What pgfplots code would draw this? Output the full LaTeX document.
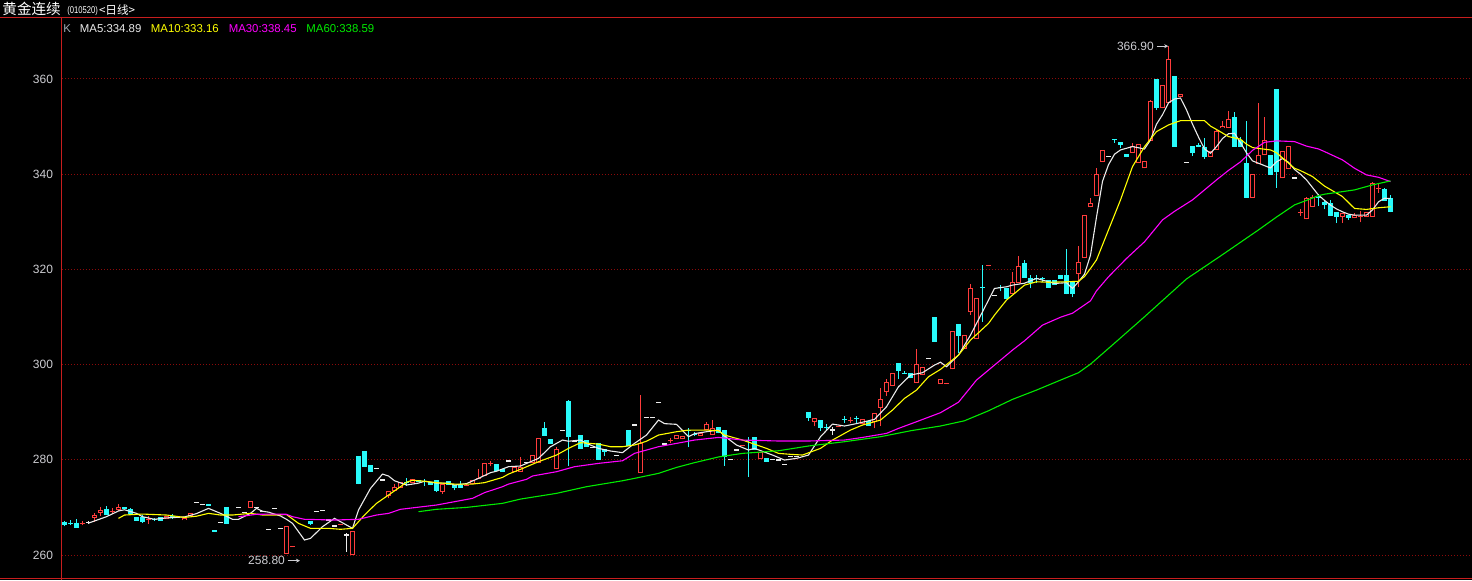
\documentclass[border=0pt]{standalone}
\usepackage{pgfplots}
\pgfplotsset{compat=1.18}
\usepackage{pgfplotstable}
\usetikzlibrary{arrows.meta}
\usepackage{fontspec}
\setmainfont{Liberation Sans}
\newfontfamily\cjk{Noto Sans CJK SC}

\definecolor{upred}{RGB}{255,60,60}
\definecolor{dncyan}{RGB}{40,250,250}
\definecolor{axred}{RGB}{200,30,30}
\definecolor{gridred}{RGB}{140,10,10}
\definecolor{lbl}{RGB}{205,205,210}
\definecolor{kgrey}{RGB}{160,170,180}
\definecolor{ma5}{RGB}{235,235,235}
\definecolor{ma10}{RGB}{255,255,0}
\definecolor{ma30}{RGB}{255,0,255}
\definecolor{ma60}{RGB}{0,235,0}

% daily bars: i = bar index, o h l c
% rising bars (hollow red)
\pgfplotstableread{
i o h l c
3 266.6 267.2 266.2 266.8
5 267.8 268.9 267.0 268.4
6 268.9 270.0 268.2 269.45
8 269.1 269.8 268.6 269.3
9 269.45 270.7 269.2 270.15
14 267.4 268.1 266.5 267.6
17 267.6 268.2 267.6 268.2
20 267.3 267.8 267.3 267.8
21 268.2 268.75 268.2 268.75
31 269.95 271.35 269.95 271.35
37 260.2 266.1 260.2 266.1
38 261.8 261.95 261.8 261.95
46 266.35 266.55 266.35 266.55
48 259.95 264.95 259.95 264.95
54 272.45 273.45 271.9 273.45
55 273.45 274.85 273.45 274.35
56 274.15 275.3 274.15 275.3
58 275.2 275.9 275.2 275.9
63 273.3 274.9 272.9 274.9
67 274.6 274.9 274.4 274.8
68 274.9 275.75 274.9 275.75
69 276.0 278.0 276.0 276.2
70 276.65 279.4 276.65 279.4
71 279.15 279.7 278.6 279.35
75 277.5 278.4 277.5 278.4
76 277.5 280.5 277.5 278.4
78 279.25 281.0 279.25 281.0
79 279.25 284.65 279.25 284.65
82 278.0 282.75 278.0 282.25
96 277.15 293.6 277.15 283.6
101 283.9 284.6 283.6 284.1
102 284.3 285.2 284.3 285.2
103 284.3 285.0 284.3 285.0
106 285.0 285.7 285.0 285.7
107 286.2 287.9 286.2 287.45
108 285.2 288.3 285.2 286.6
113 282.9 283.1 282.9 283.1
116 280.2 281.6 280.2 281.6
125 288.0 288.7 287.0 288.7
129 286.85 287.05 286.85 287.05
131 288.25 289.0 287.8 288.45
133 287.5 288.5 287.5 288.5
135 287.95 289.75 286.6 289.75
136 290.95 295.0 287.0 292.7
137 294.2 297.0 293.5 296.35
138 295.5 298.2 295.5 298.2
142 296.2 303.3 296.2 300.1
143 297.8 299.4 297.8 299.4
146 295.9 296.9 295.9 296.9
147 295.95 296.15 295.95 296.15
148 299.0 307.05 299.0 307.05
150 303.3 306.15 303.3 306.15
151 311.0 316.9 310.5 316.0
152 305.3 313.9 305.3 313.9
154 320.8 321.0 320.8 321.0
158 314.85 319.4 314.85 317.3
159 317.1 322.9 317.1 320.7
169 319.0 324.9 316.4 321.6
170 322.3 331.4 322.3 331.4
171 333.05 334.95 333.05 334.0
172 335.4 341.3 335.4 340.0
173 342.6 345.1 342.6 345.1
178 344.55 346.5 344.55 345.85
179 342.4 346.35 342.4 346.35
180 341.25 342.75 341.25 342.75
181 347.05 355.6 347.05 355.4
183 353.85 358.75 353.85 358.75
184 354.9 366.9 354.9 364.1
186 356.3 356.85 356.3 356.85
191 343.7 344.9 343.7 344.9
192 345.1 349.6 345.1 349.1
193 349.65 351.2 349.65 350.1
194 349.8 353.3 349.8 351.5
198 335.1 340.0 335.1 340.0
199 342.1 354.9 342.1 344.0
200 343.95 351.95 343.95 347.1
203 339.1 344.9 339.1 344.9
204 341.0 345.9 341.0 345.9
206 331.8 332.6 331.3 332.0
207 330.5 335.3 330.5 335.05
208 333.15 335.6 333.15 335.25
213 331.05 331.9 329.8 331.9
215 330.7 331.9 330.7 331.4
216 331.1 332.3 329.9 331.3
217 331.05 332.1 331.05 332.1
218 331.05 338.4 331.05 338.1
219 336.95 338.0 336.1 337.15
}\upT

% falling bars (filled cyan)
\pgfplotstableread{
i o h l c
0 267.0 267.2 266.0 266.2
1 266.8 267.3 266.2 266.6
2 266.8 267.5 265.7 265.7
7 269.7 270.3 268.4 268.4
10 270.0 270.1 269.6 269.6
11 269.7 269.9 268.6 268.6
12 268.0 268.0 267.2 267.2
13 267.9 268.3 266.7 266.9
15 267.6 267.8 267.1 267.4
16 267.9 267.9 267.2 267.2
18 268.1 268.6 267.6 267.9
24 270.7 270.7 270.35 270.35
25 265.25 265.25 264.9 264.9
27 270.1 270.1 266.6 266.6
41 267.1 267.1 266.2 266.5
49 280.8 280.8 274.85 274.85
50 281.85 281.85 278.55 278.55
51 278.9 278.9 277.5 277.5
57 275.3 276.1 274.6 275.1
59 275.75 275.75 275.3 275.3
60 275.6 276.0 274.6 275.4
61 275.4 275.4 274.7 274.7
62 275.75 275.75 273.2 273.45
64 275.55 275.55 274.7 274.7
65 274.7 274.7 273.6 274.15
66 274.7 275.5 274.1 274.1
72 279.1 279.1 277.7 277.7
73 278.0 278.0 277.5 277.5
80 286.75 287.95 285.0 285.0
81 284.35 284.35 283.4 283.4
84 292.35 292.55 278.75 284.85
86 285.2 285.2 282.25 282.25
87 284.15 284.15 282.75 282.75
89 283.45 283.45 279.95 279.95
90 282.25 282.25 280.9 281.7
94 286.25 286.25 282.9 282.9
104 286.2 286.6 282.6 286.0
105 285.5 285.8 285.0 285.3
109 286.8 286.8 285.55 285.55
110 286.25 286.25 278.7 280.65
114 284.2 284.7 276.45 284.05
115 284.7 284.7 282.05 282.05
117 280.3 280.3 279.6 279.6
124 290.1 290.1 288.2 288.85
126 288.35 288.35 286.0 286.6
127 286.9 287.6 286.0 286.7
130 288.6 289.3 287.7 288.4
132 288.75 289.2 287.6 288.55
134 288.2 288.2 287.15 287.15
139 300.25 300.25 296.9 298.65
140 298.3 298.6 298.0 298.1
141 298.2 298.2 297.1 297.1
145 309.95 309.95 304.8 304.8
149 308.5 308.5 302.35 306.05
153 316.25 320.9 309.0 316.05
156 316.35 316.8 315.4 316.15
157 316.15 316.15 313.8 313.8
160 321.3 321.9 318.25 318.25
161 318.25 318.8 316.0 317.1
162 318.1 318.9 317.1 317.9
163 318.1 318.5 317.4 317.9
164 317.75 317.75 316.15 316.15
165 317.75 317.75 316.7 316.7
166 318.8 318.8 317.9 317.9
167 318.8 324.2 314.75 314.75
168 317.3 317.3 314.1 314.85
175 347.3 347.5 346.6 347.1
176 346.7 346.7 345.4 346.1
177 344.25 344.25 343.55 343.55
182 360.0 360.0 353.5 353.85
185 360.6 360.6 345.8 345.8
188 345.9 345.9 343.8 344.5
189 346.1 346.5 345.65 345.65
190 345.8 347.6 343.2 343.7
195 351.95 353.1 345.8 345.8
196 347.2 347.9 345.8 345.8
197 342.3 351.2 335.1 335.1
201 344.0 344.0 339.9 339.9
202 357.8 357.8 337.2 340.5
209 335.3 335.9 333.3 335.1
210 334.2 334.4 332.6 333.5
211 334.0 334.6 331.2 331.2
212 332.1 332.1 329.7 331.05
214 331.4 331.4 330.4 330.7
220 336.95 337.2 334.45 334.45
221 334.95 335.6 332.0 332.0
}\downT

% unchanged bars (white)
\pgfplotstableread{
i o h l c
4 266.8 267.1 266.5 266.8
22 271.1 271.1 271.1 271.1
23 270.65 270.65 270.65 270.65
26 266.9 266.9 266.9 266.9
29 270.0 270.0 270.0 270.0
30 269.0 269.0 269.0 269.0
32 269.95 269.95 269.95 269.95
33 269.2 269.2 269.2 269.2
34 265.4 265.4 265.4 265.4
35 269.7 269.7 269.7 269.7
36 265.6 265.6 265.6 265.6
42 269.1 269.1 269.1 269.1
43 269.3 269.3 269.3 269.3
44 267.35 267.35 267.35 267.35
45 266.1 266.1 266.1 266.1
47 264.2 264.55 260.7 264.2
52 278.2 278.2 278.2 278.2
53 275.75 275.75 275.75 275.75
74 279.75 279.75 279.75 279.75
77 279.5 279.5 279.5 279.5
83 286.2 286.2 286.2 286.2
85 283.9 283.9 283.9 283.9
88 282.6 282.6 282.6 282.6
92 280.95 280.95 280.95 280.95
95 287.3 287.3 287.3 287.3
97 288.9 288.9 288.9 288.9
98 288.9 288.9 288.9 288.9
99 292.1 292.1 292.1 292.1
100 283.3 283.3 283.3 283.3
111 280.1 280.1 280.1 280.1
112 282.05 282.05 282.05 282.05
118 280.1 280.1 280.1 280.1
119 279.95 279.95 279.95 279.95
120 279.05 279.05 279.05 279.05
121 280.65 280.65 280.65 280.65
122 280.65 280.65 280.65 280.65
128 286.25 286.9 285.2 286.25
144 301.2 301.2 301.2 301.2
155 314.55 314.55 314.55 314.55
174 343.8 343.8 343.8 343.8
187 342.5 342.5 342.5 342.5
205 339.2 339.2 339.2 339.2
}\flatT

\pgfplotsset{
  seg/.style 2 args={draw=#1, line width=#2, mark=none, forget plot},
}

\begin{document}
\begin{tikzpicture}
\fill[black] (0,0) rectangle (736pt,290pt);
\useasboundingbox (0,0) rectangle (736pt,290pt);

\begin{axis}[at={(31pt,1pt)}, anchor=south west, scale only axis,
  width=705pt, height=280.5pt,
  xmin=-0.4167, xmax=234.583, ymin=255.168, ymax=373.025,
  axis line style={draw=none}, xtick=\empty,
  ytick={260,280,...,360}, major tick length=0pt,
  ymajorgrids, grid style={gridred, line width=0.5pt, dash pattern=on 0.5pt off 1pt},
  yticklabel style={text=lbl, font=\fontsize{6}{7}\selectfont, xshift=-1pt},
  /pgf/number format/assume math mode=true,
]
% wicks, low to high
\addplot[seg={upred}{0.5pt}, quiver={u=0, v=\thisrow{h}-\thisrow{l}}] table[x=i, y=l] {\upT};
\addplot[seg={dncyan}{0.5pt}, quiver={u=0, v=\thisrow{h}-\thisrow{l}}] table[x=i, y=l] {\downT};
\addplot[seg={ma5}{0.5pt}, quiver={u=0, v=\thisrow{h}-\thisrow{l}}] table[x=i, y=l] {\flatT};
% bodies, open to close
\addplot[seg={upred}{2.5pt}, quiver={u=0, v=\thisrow{c}-\thisrow{o}}] table[x=i, y=o] {\upT};
\addplot[seg={black}{1.5pt}, quiver={u=0, v={max(\thisrow{c}-\thisrow{o}-0.42,0)}}] table[x=i, y expr=\thisrow{o}+0.21] {\upT};
\addplot[seg={dncyan}{2.5pt}, quiver={u=0, v=\thisrow{c}-\thisrow{o}}] table[x=i, y=o] {\downT};
\addplot[seg={ma5}{0.6pt}, quiver={u=0.8333, v=0}] table[x expr=\thisrow{i}-0.4167, y=c] {\flatT};

% moving averages
\addplot[ma5, line width=0.55pt, mark=none] coordinates {
(4,266.7)(7,268.05)(9,269.25)(10,269.5)(12,268.75)(13,268.05)(15,267.5)(17,267.8)(18,267.85)(20,268.0)(22,268.7)(24,269.8)(26,268.75)(28,267.5)(29,267.5)(31,268.75)(32,269.8)(33,269.2)(34,269.0)(35,268.6)(36,268.2)(37,267.5)(38,266.65)(40,263.15)(41,263.5)(43,265.95)(45,267.7)(46,267.0)(48,265.6)(49,269.45)(51,274.0)(53,277.0)(54,276.6)(55,275.6)(57,274.7)(59,275.1)(60,275.5)(62,275.1)(64,275.1)(65,274.7)(67,275.0)(69,276.1)(71,277.3)(72,277.6)(74,278.55)(76,278.7)(79,280.3)(81,282.75)(83,284.15)(84,283.9)(86,284.15)(87,283.45)(89,282.4)(91,281.85)(93,281.5)(95,283.45)(97,285.2)(99,288.35)(100,287.6)(102,287.45)(104,284.85)(105,285.5)(107,285.9)(109,286.25)(110,285.0)(112,283.1)(114,282.05)(115,282.4)(118,281.0)(120,279.95)(122,280.3)(124,281.0)(126,284.85)(128,287.5)(130,287.1)(132,287.6)(135,288.5)(137,291.15)(139,295.35)(141,297.8)(143,298.3)(145,299.9)(146,300.5)(147,299.55)(149,302.0)(151,306.2)(153,311.1)(154,313.55)(155,316.0)(157,316.35)(158,316.7)(160,317.1)(162,318.1)(163,317.75)(165,317.05)(167,317.2)(168,316.0)(169,317.4)(170,319.0)(171,323.0)(172,331.0)(173,338.5)(174,342.0)(175,344.2)(176,345.1)(178,345.8)(180,345.3)(181,347.2)(182,350.5)(183,352.5)(184,355.0)(185,355.8)(186,356.0)(187,353.5)(188,350.5)(189,347.8)(190,345.3)(191,344.4)(192,345.8)(193,347.5)(194,348.5)(195,348.6)(196,346.6)(197,344.5)(198,342.8)(199,342.3)(200,341.8)(201,341.3)(202,342.6)(203,343.3)(204,342.5)(205,341.0)(206,340.0)(207,338.8)(208,337.2)(209,335.6)(210,334.5)(211,333.5)(212,332.7)(213,332.1)(214,331.6)(215,331.4)(216,331.4)(217,331.4)(218,332.5)(219,334.2)(220,334.95)(221,334.89)
};
\addplot[ma10, line width=0.55pt, mark=none] coordinates {
(9,267.7)(10,268.4)(13,268.6)(17,268.4)(20,267.9)(22,268.15)(24,268.75)(26,268.4)(28,268.4)(31,268.75)(33,268.4)(35,268.4)(37,268.5)(39,266.65)(41,265.6)(44,265.6)(46,265.4)(48,265.6)(50,268.4)(52,270.85)(54,272.6)(56,274.35)(57,275.3)(58,275.7)(60,275.5)(62,275.2)(65,274.9)(68,274.9)(70,275.2)(73,276.3)(74,277.0)(76,278.0)(79,279.6)(82,281.0)(84,282.4)(86,283.6)(89,283.3)(91,282.75)(93,282.75)(95,283.1)(97,283.9)(99,285.2)(102,285.9)(104,286.25)(107,286.25)(109,286.1)(110,285.2)(113,284.15)(117,282.4)(119,281.35)(121,281.15)(123,281.0)(126,282.4)(128,284.15)(131,286.25)(133,287.3)(136,288.35)(138,290.45)(140,292.9)(142,294.65)(144,297.45)(146,299.0)(149,302.0)(151,305.15)(154,308.65)(155,310.4)(157,313.55)(160,316.7)(162,317.4)(164,317.3)(167,317.4)(169,317.5)(170,318.5)(171,320.2)(172,322.0)(174,328.3)(176,334.6)(178,341.6)(180,345.8)(182,348.95)(184,350.35)(186,351.25)(190,351.25)(191,350.1)(192,349.4)(194,347.9)(196,347.35)(197,346.3)(198,345.6)(199,345.4)(201,345.1)(202,344.5)(205,341.25)(206,340.75)(208,339.5)(210,337.5)(213,335.3)(215,332.8)(217,332.6)(219,332.95)(221,333.16)
};
\addplot[ma30, line width=0.55pt, mark=none] coordinates {
(29,268.05)(32,268.55)(35,268.6)(37,268.55)(38,268.05)(40,267.5)(45,267.35)(49,267.5)(52,268.4)(54,268.75)(56,269.6)(59,270.05)(62,270.5)(65,271.2)(68,271.9)(70,273.1)(73,274.35)(74,274.9)(77,275.9)(78,276.6)(82,277.5)(85,278.55)(89,279.25)(93,279.8)(95,281.35)(99,282.75)(102,283.45)(105,284.15)(109,284.7)(113,284.15)(119,283.95)(124,283.95)(130,284.15)(133,284.7)(137,285.55)(139,286.6)(142,288.0)(146,289.9)(149,292.1)(152,296.75)(155,299.9)(158,303.05)(160,305.0)(163,308.3)(166,309.95)(168,310.8)(171,313.4)(172,315.5)(174,318.45)(177,322.3)(180,325.8)(183,330.4)(185,332.2)(188,334.6)(192,338.8)(194,340.8)(196,342.6)(198,345.0)(200,346.7)(202,347.0)(204,346.9)(205,346.85)(207,345.9)(209,345.3)(210,344.75)(213,343.0)(215,341.25)(217,339.85)(219,339.35)(221,338.45)
};
\addplot[ma60, line width=0.55pt, mark=none] coordinates {
(59,269.1)(62,269.6)(67,270.0)(73,270.85)(76,271.75)(82,272.95)(87,274.35)(93,275.6)(95,276.1)(99,277.15)(102,278.4)(105,279.4)(109,280.6)(113,281.35)(119,281.9)(124,282.9)(130,283.8)(136,284.85)(141,286.1)(146,287.1)(150,288.2)(154,290.3)(158,292.7)(162,294.65)(166,296.75)(169,298.3)(171,300.1)(175,304.5)(180,310.05)(187,318.0)(193,323.1)(199,328.3)(202,331.0)(205,333.55)(207,334.5)(209,335.5)(210,335.8)(215,336.7)(218,337.75)(221,338.59)
};

% high / low markers
\node[anchor=east, inner sep=0pt, text=lbl, font=\fontsize{6}{7}\selectfont] at (axis cs:181.6,366.9) {366.90};
\draw[lbl, line width=0.5pt, -{Stealth[length=2pt,width=2pt]}] (axis cs:182.0,366.9) -- (axis cs:183.95,366.9);
\node[anchor=east, inner sep=0pt, text=lbl, font=\fontsize{6}{7}\selectfont] at (axis cs:36.8,258.8) {258.80};
\draw[lbl, line width=0.5pt, -{Stealth[length=2pt,width=2pt]}] (axis cs:37.2,258.8) -- (axis cs:39.25,258.8);
\end{axis}

% frame lines
\draw[axred, line width=0.6pt] (0,281.25pt) -- (736pt,281.25pt);
\draw[axred, line width=0.6pt] (30.75pt,0) -- (30.75pt,281.25pt);
\draw[axred, line width=0.6pt] (0,0.6pt) -- (736pt,0.6pt);

% title and legend
\node[anchor=base west, inner sep=0pt, text=white] at (1pt,283pt) {\cjk\fontsize{7.3}{8}\selectfont 黄金连续};
\node[anchor=base west, inner sep=0pt, text=white] at (33.5pt,283.3pt) {\scalebox{0.78}[1]{\fontsize{4.9}{5}\selectfont (010520)}};
\node[anchor=base west, inner sep=0pt, text=white] at (49.3pt,283pt) {\cjk\fontsize{5.8}{7}\selectfont <日线>};

\node[anchor=base west, inner sep=0pt, text=kgrey, font=\fontsize{5.7}{7}\selectfont] at (31.5pt,273.5pt) {K};
\node[anchor=base west, inner sep=0pt, text=ma5, font=\fontsize{5.7}{7}\selectfont] at (39.75pt,273.5pt) {MA5:334.89};
\node[anchor=base west, inner sep=0pt, text=ma10, font=\fontsize{5.7}{7}\selectfont] at (75.25pt,273.5pt) {MA10:333.16};
\node[anchor=base west, inner sep=0pt, text=ma30, font=\fontsize{5.7}{7}\selectfont] at (114.2pt,273.5pt) {MA30:338.45};
\node[anchor=base west, inner sep=0pt, text=ma60, font=\fontsize{5.7}{7}\selectfont] at (153pt,273.5pt) {MA60:338.59};
\end{tikzpicture}
\end{document}
